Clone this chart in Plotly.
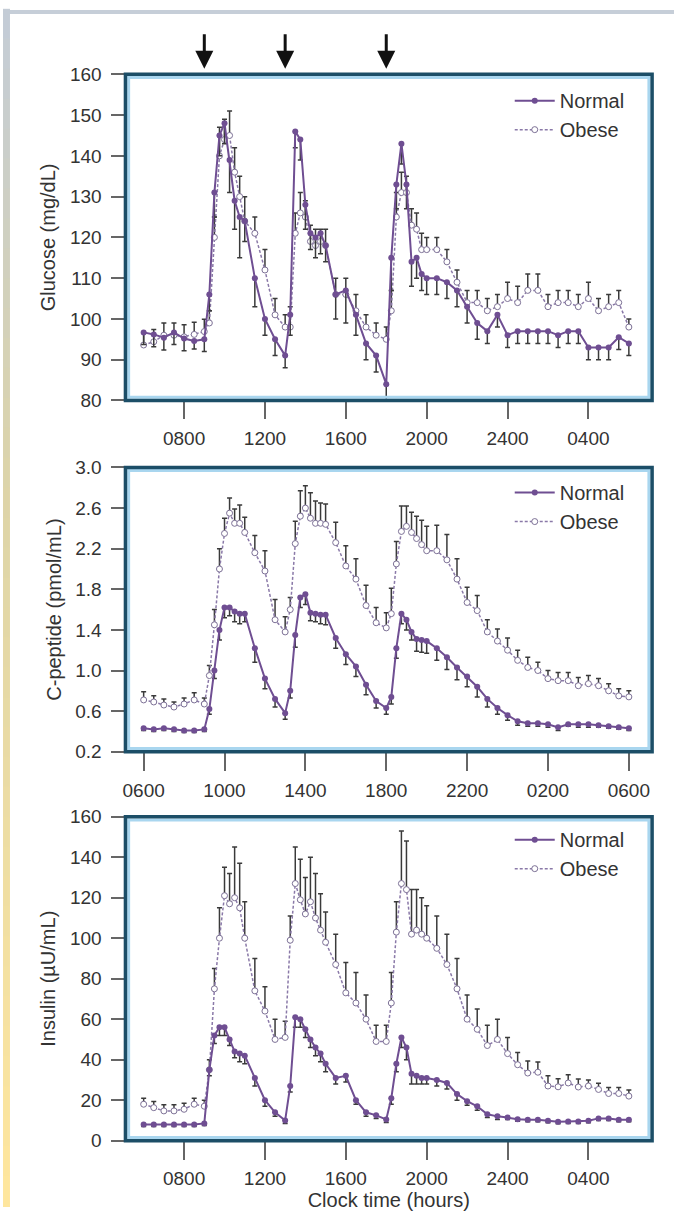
import plotly.graph_objects as go

W, H = 674, 1218

# ---------------- data ----------------
TIME_H = [6, 6.5, 7, 7.5, 8, 8.5, 9,
          9.25, 9.5, 9.75, 10, 10.25, 10.5, 10.75, 11,
          11.5, 12, 12.5, 13,
          13.25, 13.5, 13.75, 14, 14.25, 14.5, 14.75, 15,
          15.5, 16, 16.5, 17, 17.5, 18,
          18.25, 18.5, 18.75, 19, 19.25, 19.5, 19.75, 20,
          20.5, 21, 21.5, 22, 22.5, 23, 23.5, 24, 24.5, 25,
          25.5, 26, 26.5, 27, 27.5, 28, 28.5, 29, 29.5, 30]

MEAL_TIMES = [9, 13, 18]

GLU_NORMAL = [96.7, 96.2, 95.4, 96.7, 95.2, 94.6, 95.0,
              106, 131, 145, 148, 139, 129, 125, 124,
              110, 100, 95, 91,
              101, 146, 144, 128, 121, 120, 121, 118,
              106, 107, 101, 94, 91, 84,
              115, 133, 143, 133, 114, 115, 111, 110,
              110, 109, 107, 103, 99, 97, 101, 96, 97, 97,
              97, 97, 96, 97, 97, 93, 93, 93, 95.5, 94]
GLU_NORMAL_SE = [3, 3, 3, 3, 3, 2, 3,
                 4, 6, 5, 5, 8, 7, 10, 5,
                 7, 4, 4, 3,
                 5, 4, 5, 6, 4, 5, 5, 4,
                 6, 8, 5, 4, 4, 5,
                 8, 6, 5, 6, 6, 5, 4, 4,
                 4, 4, 4, 4, 4, 3, 3, 3, 3, 3,
                 3, 3, 3, 3, 3, 3, 3, 3, 3, 3]
GLU_OBESE = [93.6, 94.4, 96, 96, 95.6, 96.2, 96.9,
             99, 120, 140, 144, 145, 136, 130, 124,
             121, 112, 101, 98,
             98, 121, 126, 125, 119, 118, 119, 118,
             106, 106, 102, 98, 96, 95,
             102, 125, 131, 131, 123, 122, 117, 117,
             117, 114, 109, 104, 104, 102, 103, 105, 104, 107,
             107, 103, 104, 104, 103, 105, 102, 103, 104, 98]
GLU_OBESE_SE = [3, 3, 3, 3, 3, 3, 3,
                3, 5, 7, 5, 6, 6, 5, 6,
                4, 5, 4, 3,
                5, 5, 5, 4, 4, 4, 3, 4,
                4, 4, 4, 3, 3, 3,
                5, 6, 5, 4, 4, 4, 4, 3,
                3, 3, 3, 3, 3, 3, 3, 4, 4, 4,
                4, 3, 3, 3, 3, 4, 3, 3, 3, 2]

CP_NORMAL = [0.43, 0.42, 0.43, 0.42, 0.41, 0.41, 0.42,
             0.62, 1.0, 1.4, 1.62, 1.62, 1.58, 1.56, 1.56,
             1.22, 0.92, 0.72, 0.58,
             0.8, 1.35, 1.72, 1.75, 1.57, 1.56, 1.55, 1.55,
             1.32, 1.16, 1.04, 0.86, 0.70, 0.63,
             0.74, 1.22, 1.56, 1.5, 1.38, 1.31, 1.3, 1.29,
             1.22, 1.13, 1.03, 0.94, 0.84, 0.72, 0.63, 0.56, 0.5, 0.48,
             0.48, 0.47, 0.44, 0.47, 0.47, 0.47, 0.46, 0.45, 0.44, 0.43]
CP_NORMAL_SE = [0.02, 0.02, 0.02, 0.02, 0.02, 0.02, 0.02,
                0.05, 0.08, 0.1, 0.1, 0.08, 0.1, 0.1, 0.08,
                0.14, 0.1, 0.08, 0.06,
                0.07, 0.12, 0.1, 0.1, 0.08, 0.08, 0.09, 0.1,
                0.1, 0.1, 0.1, 0.1, 0.07, 0.06,
                0.07, 0.1, 0.1, 0.1, 0.08, 0.12, 0.12, 0.12,
                0.12, 0.12, 0.12, 0.1, 0.1, 0.08, 0.06, 0.05, 0.04, 0.03,
                0.03, 0.03, 0.03, 0.02, 0.03, 0.03, 0.02, 0.02, 0.02, 0.02]
CP_OBESE = [0.71, 0.69, 0.66, 0.64, 0.67, 0.71, 0.67,
            0.95, 1.45, 2.0, 2.35, 2.55, 2.45, 2.45, 2.36,
            2.16, 1.98, 1.5, 1.38,
            1.6, 2.25, 2.52, 2.6, 2.5, 2.45, 2.45, 2.44,
            2.26, 2.03, 1.9, 1.64, 1.47, 1.42,
            1.56, 2.05, 2.37, 2.42, 2.36, 2.3, 2.24, 2.18,
            2.18, 2.09, 1.9, 1.67, 1.59, 1.38, 1.29, 1.2, 1.1, 1.03,
            1.0, 0.92, 0.9, 0.9, 0.85, 0.87, 0.85, 0.8, 0.75, 0.74]
CP_OBESE_SE = [0.08, 0.06, 0.06, 0.05, 0.06, 0.07, 0.06,
               0.1, 0.15, 0.2, 0.15, 0.15, 0.14, 0.18, 0.15,
               0.17, 0.2, 0.2, 0.15,
               0.12, 0.22, 0.25, 0.22, 0.25, 0.22, 0.2, 0.2,
               0.2, 0.2, 0.2, 0.2, 0.15, 0.15,
               0.25, 0.22, 0.25, 0.2, 0.2, 0.22, 0.24, 0.24,
               0.25, 0.25, 0.2, 0.15, 0.15, 0.12, 0.12, 0.12, 0.1, 0.1,
               0.08, 0.08, 0.08, 0.08, 0.08, 0.08, 0.07, 0.07, 0.07, 0.06]

INS_NORMAL = [8, 8, 8, 8, 8, 8, 8.5,
              35, 52, 56, 56, 50, 44, 43, 42,
              31, 20, 14, 10,
              27, 61, 60, 55, 50, 46, 43, 38,
              31, 32, 20, 14, 12.5, 10.5,
              21, 38, 51, 46, 33, 32, 31, 31,
              30, 28.5, 23, 19.5, 17, 13, 12, 11.4, 10.6, 10.3,
              10.3, 9.8, 9.3, 9.5, 9.5, 9.8, 11, 11, 10.3, 10.3]
INS_NORMAL_SE = [1, 1, 1, 1, 1, 1, 1,
                 3, 4, 4, 4, 3, 3, 4, 4,
                 4, 3, 2, 1.5,
                 3, 5, 4, 4, 4, 4, 4, 4,
                 3, 3, 2, 2, 1.5, 1.5,
                 3, 4, 5, 6, 5, 4, 3, 3,
                 3, 3, 3, 2, 2, 1.5, 1.5, 1, 1, 1,
                 1, 1, 1, 1, 1, 1, 1, 1, 1, 1]
INS_OBESE = [18, 16.3, 14.7, 14.7, 15.5, 18, 17,
             35, 75, 100, 121, 117, 120, 115, 100,
             74, 64, 50, 51,
             99, 127, 119, 112, 118, 110, 104, 98,
             87, 73, 68, 60, 49, 49,
             68, 103, 127, 124, 102, 104, 102, 100,
             95, 87, 75, 60, 55, 47, 50, 43, 37.5, 33.4,
             33.8, 27, 26.6, 28.5, 26.5, 27, 25.3, 23.3, 23.3, 22]
INS_OBESE_SE = [3, 3, 3, 3, 3, 3, 3,
                5, 10, 15, 14, 15, 25, 22, 18,
                16, 12, 10, 8,
                12, 18, 20, 18, 22, 22, 18, 15,
                15, 15, 15, 12, 8, 8,
                15, 15, 26, 24, 22, 20, 18, 16,
                16, 15, 15, 12, 10, 10, 10, 8, 6, 6,
                5, 5, 4, 4, 4, 3, 3, 3, 3, 3]

XTICK_VALS_A = [8, 12, 16, 20, 24, 28]
XTICK_TEXT_A = ["0800", "1200", "1600", "2000", "2400", "0400"]
XTICK_VALS_B = [6, 10, 14, 18, 22, 26, 30]
XTICK_TEXT_B = ["0600", "1000", "1400", "1800", "2200", "0200", "0600"]

GLU_TICKS = [80, 90, 100, 110, 120, 130, 140, 150, 160]
CP_TICKS = [0.2, 0.6, 1.0, 1.4, 1.8, 2.2, 2.6, 3.0]
CP_TICK_TEXT = ["0.2", "0.6", "1.0", "1.4", "1.8", "2.2", "2.6", "3.0"]
INS_TICKS = [0, 20, 40, 60, 80, 100, 120, 140, 160]

SERIES_NAMES = ["Normal", "Obese"]
Y_TITLES = ["Glucose (mg/dL)", "C-peptide (pmol/mL)", "Insulin (\u00b5U/mL)"]
X_TITLE = "Clock time (hours)"

# ---------------- style ----------------
FONT = "Liberation Sans, Arial, Helvetica, sans-serif"
TXT = "#333333"
C_NORMAL = "#6f4e92"
C_OBESE = "#8a79a8"
C_ERR = "#3a3a3a"
FRAME_DARK = "#1c4e67"
FRAME_LIGHT = "#a9d6ef"

# vertical placement correction (page px -> photographed px)
Y_OFF, Y_SC = 8.0, 0.9854


def py(ref_px):
    return (ref_px - Y_OFF) / Y_SC


FX0, FX1 = 123, 652
PANELS = [  # (top px, bottom px) as seen in the reference
    (72.5, 399.5),
    (466.7, 751.7),
    (816.9, 1141.7),
]
LEGEND_NORMAL_Y = [101, 494, 842]


def dom_x(a, b):
    return [a / W, b / W]


def dom_y(top, bottom):
    return [1 - py(bottom) / H, 1 - py(top) / H]


fig = go.Figure()

datasets = [
    (GLU_NORMAL, GLU_NORMAL_SE, GLU_OBESE, GLU_OBESE_SE),
    (CP_NORMAL, CP_NORMAL_SE, CP_OBESE, CP_OBESE_SE),
    (INS_NORMAL, INS_NORMAL_SE, INS_OBESE, INS_OBESE_SE),
]
legend_ids = ["legend", "legend2", "legend3"]

for i, (yn, en, yo, eo) in enumerate(datasets):
    ax = "" if i == 0 else str(i + 1)
    fig.add_trace(go.Scatter(
        x=TIME_H, y=yo, name=SERIES_NAMES[1], mode="lines+markers",
        line=dict(color=C_OBESE, width=1.5, dash="3px,2px"),
        marker=dict(symbol="circle", size=6, color="white",
                    line=dict(color="#7d7196", width=1)),
        error_y=dict(type="data", symmetric=False, array=eo,
                     arrayminus=[0] * len(eo), color=C_ERR,
                     thickness=1.5, width=2.5),
        xaxis="x" + ax, yaxis="y" + ax, legend=legend_ids[i],
        legendrank=2,
    ))
    fig.add_trace(go.Scatter(
        x=TIME_H, y=yn, name=SERIES_NAMES[0], mode="lines+markers",
        line=dict(color=C_NORMAL, width=2),
        marker=dict(symbol="circle", size=6, color=C_NORMAL),
        error_y=dict(type="data", symmetric=False, array=[0] * len(en),
                     arrayminus=en, color=C_ERR, thickness=1.5, width=2.5),
        xaxis="x" + ax, yaxis="y" + ax, legend=legend_ids[i],
        legendrank=1,
    ))

xrange_ = [5.1, 31.15]
tickfont = dict(family=FONT, size=19, color=TXT)
titlefont = dict(family=FONT, size=20, color=TXT)
yranges = [[80, 160], [0.2, 3.0], [0, 160]]
yticks = [(GLU_TICKS, [str(v) for v in GLU_TICKS]),
          (CP_TICKS, CP_TICK_TEXT),
          (INS_TICKS, [str(v) for v in INS_TICKS])]
xticks = [(XTICK_VALS_A, XTICK_TEXT_A), (XTICK_VALS_B, XTICK_TEXT_B),
          (XTICK_VALS_A, XTICK_TEXT_A)]

layout = dict(
    width=W, height=H,
    margin=dict(l=0, r=0, t=0, b=0),
    paper_bgcolor="white", plot_bgcolor="white",
    showlegend=True,
    font=dict(family=FONT, color=TXT),
)

for i, (top, bottom) in enumerate(PANELS):
    ax = "" if i == 0 else str(i + 1)
    xa = dict(
        domain=dom_x(FX0, FX1), range=xrange_, anchor="y" + ax,
        tickvals=xticks[i][0], ticktext=xticks[i][1],
        ticks="outside", ticklen=18, tickwidth=1.5, tickcolor="#666666",
        tickfont=tickfont, showgrid=False, zeroline=False, showline=False,
        ticklabelstandoff=3, fixedrange=True,
    )
    if i == 2:
        xa["title"] = dict(text=X_TITLE, font=titlefont, standoff=4)
    ya = dict(
        domain=dom_y(top, bottom), range=yranges[i], anchor="x" + ax,
        tickvals=yticks[i][0], ticktext=yticks[i][1],
        ticks="outside", ticklen=13, tickwidth=1.5, tickcolor="#666666",
        tickfont=tickfont, showgrid=False, zeroline=False, showline=False,
        ticklabelstandoff=6, fixedrange=True,
        title=dict(text=Y_TITLES[i], font=titlefont, standoff=8),
    )
    layout["xaxis" + ax] = xa
    layout["yaxis" + ax] = ya
    leg = dict(
        x=509 / W, xanchor="left", y=1 - (py(LEGEND_NORMAL_Y[i]) - 22) / H,
        yanchor="top",
        bgcolor="rgba(0,0,0,0)", font=dict(family=FONT, size=20, color=TXT),
        itemwidth=40, tracegroupgap=0, traceorder="normal",
    )
    layout[legend_ids[i]] = leg

shapes = []
# background strips (top and left)
shapes.append(dict(type="rect", xref="paper", yref="paper", x0=0, x1=1,
                   y0=1 - 4 / H, y1=1, line=dict(width=0),
                   fillcolor="#c6ced8", layer="below"))
top_c = (0xc4, 0xcc, 0xd6)
mid_c = (0xdd, 0xd4, 0xa8)
bot_c = (0xfe, 0xe6, 0x9e)
nseg = 40
for k in range(nseg):
    t = k / (nseg - 1)
    if t < 0.4:
        u = t / 0.4
        c = [round(top_c[j] + (mid_c[j] - top_c[j]) * u) for j in range(3)]
    else:
        u = (t - 0.4) / 0.6
        c = [round(mid_c[j] + (bot_c[j] - mid_c[j]) * u) for j in range(3)]
    shapes.append(dict(type="rect", xref="paper", yref="paper", x0=0, x1=7 / W,
                       y0=1 - (k + 1) / nseg, y1=1 - k / nseg + 0.001,
                       line=dict(width=0),
                       fillcolor="rgb(%d,%d,%d)" % tuple(c), layer="below"))

# panel frames
pw = FX1 - FX0
for i, (top, bottom) in enumerate(PANELS):
    ax = "" if i == 0 else str(i + 1)
    ph = py(bottom) - py(top)
    ix, iy = 3.2 / pw, 3.2 / ph
    shapes.append(dict(type="rect", xref="x" + ax + " domain", yref="y" + ax + " domain",
                       x0=ix, x1=1 - ix, y0=iy, y1=1 - iy,
                       line=dict(color=FRAME_LIGHT, width=3), layer="above"))
    shapes.append(dict(type="rect", xref="x" + ax + " domain", yref="y" + ax + " domain",
                       x0=0, x1=1, y0=0, y1=1,
                       line=dict(color=FRAME_DARK, width=3.5), layer="above"))
layout["shapes"] = shapes

# meal arrows
annotations = []
for mt in MEAL_TIMES:
    annotations.append(dict(
        x=mt, xref="x", y=1 - py(67) / H, yref="paper", text="",
        showarrow=True, ax=0, ay=-36, arrowhead=2, arrowsize=1.2,
        arrowwidth=3, arrowcolor="#111111",
    ))
layout["annotations"] = annotations

fig.update_layout(**layout)

POST_JS = (
    "document.documentElement.style.margin='0';"
    "document.documentElement.style.overflow='hidden';"
    "document.body.style.margin='0';document.body.style.padding='0';"
    "document.body.style.overflow='hidden';"
    "var gd=document.getElementById('{plot_id}');"
    "gd.style.position='absolute';gd.style.left='0px';gd.style.top='0px';"
)
fig.write_html("out.html", config={"displayModeBar": False},
               post_script=POST_JS)
